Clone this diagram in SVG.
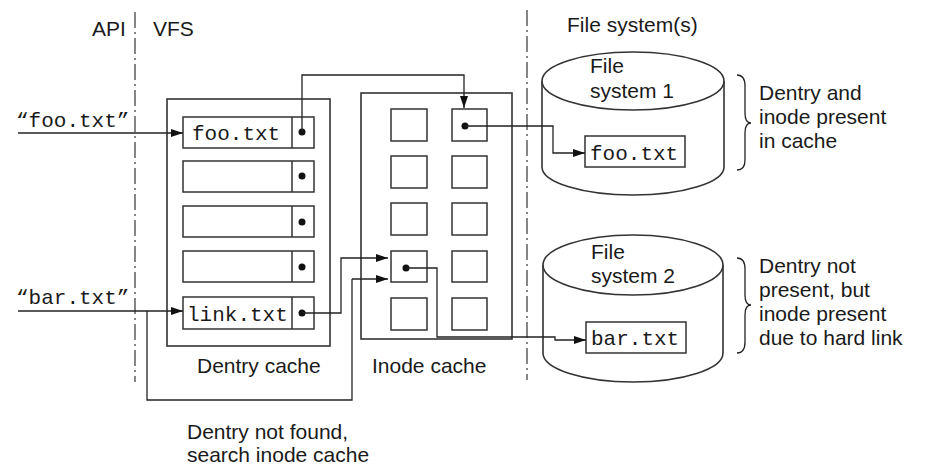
<svg xmlns="http://www.w3.org/2000/svg" width="928" height="467" viewBox="0 0 928 467">
<style>
.t{font-family:"Liberation Sans",Arial,sans-serif;font-size:21px;fill:#1a1a1a}
.m{font-family:"Liberation Mono","DejaVu Sans Mono",monospace;font-size:21px;fill:#1a1a1a}
.box{fill:#fff;stroke:#333;stroke-width:1.6}
.cell{fill:#fff;stroke:#333;stroke-width:1.5}
.ln{fill:none;stroke:#222;stroke-width:1.3}
.sep{fill:none;stroke:#444;stroke-width:1.3;stroke-dasharray:16 4 2 4}
.dot{fill:#111}
.cyl{fill:#fff;stroke:#333;stroke-width:1.6}
</style>
<defs>
<marker id="ah" markerUnits="userSpaceOnUse" markerWidth="12" markerHeight="8" refX="12" refY="4" orient="auto">
<path d="M0,0 L12,4 L0,8 z" fill="#111"/>
</marker>
</defs>
<rect width="928" height="467" fill="#fff"/>

<g id="separators">
<line class="sep" x1="135" y1="12" x2="135" y2="382"/>
<line class="sep" x1="527" y1="10" x2="527" y2="380"/>
</g>

<g id="headers">
<text class="t" x="92" y="36">API</text>
<text class="t" x="153" y="36">VFS</text>
<text class="t" x="567" y="32">File system(s)</text>
</g>

<g id="dentry-cache">
<rect class="box" x="167" y="99" width="163" height="247"/>
<g class="cell">
<rect x="183" y="117" width="131" height="31"/>
<rect x="183" y="161" width="131" height="31"/>
<rect x="183" y="206" width="131" height="31"/>
<rect x="183" y="251" width="131" height="31"/>
<rect x="183" y="297" width="131" height="32"/>
</g>
<g class="ln" style="stroke:#333;stroke-width:1.5">
<line x1="292" y1="117" x2="292" y2="148"/>
<line x1="292" y1="161" x2="292" y2="192"/>
<line x1="292" y1="206" x2="292" y2="237"/>
<line x1="292" y1="251" x2="292" y2="282"/>
<line x1="292" y1="297" x2="292" y2="329"/>
</g>
<text class="m" x="192" y="140">foo.txt</text>
<text class="m" x="187" y="321">link.txt</text>
<g class="dot">
<circle cx="302" cy="132" r="3.5"/>
<circle cx="302" cy="176" r="3.5"/>
<circle cx="302" cy="222" r="3.5"/>
<circle cx="302" cy="267" r="3.5"/>
<circle cx="302" cy="313" r="3.5"/>
</g>
<text class="t" x="197" y="373">Dentry cache</text>
</g>

<g id="inode-cache">
<rect class="box" x="361" y="93" width="151" height="246"/>
<g class="cell">
<rect x="391" y="109" width="36" height="32"/>
<rect x="452" y="109" width="35" height="32"/>
<rect x="391" y="156" width="36" height="32"/>
<rect x="452" y="156" width="35" height="32"/>
<rect x="391" y="203" width="36" height="32"/>
<rect x="452" y="203" width="35" height="32"/>
<rect x="391" y="251" width="36" height="31"/>
<rect x="452" y="251" width="35" height="31"/>
<rect x="391" y="298" width="36" height="32"/>
<rect x="452" y="298" width="35" height="32"/>
</g>
<circle class="dot" cx="465" cy="126" r="3.5"/>
<circle class="dot" cx="406" cy="268" r="3.5"/>
<text class="t" x="372" y="373">Inode cache</text>
</g>

<g id="fs1">
<path class="cyl" d="M542,81 L542,167 A91,28 0 0 0 724,167 L724,81"/>
<ellipse class="cyl" cx="633" cy="81" rx="91" ry="29"/>
<text class="t" x="590" y="73">File</text>
<text class="t" x="590" y="98">system 1</text>
<rect class="cell" x="585" y="136" width="100" height="31"/>
<text class="m" x="590" y="160">foo.txt</text>
</g>

<g id="fs2">
<path class="cyl" d="M543,265 L543,353 A90,29 0 0 0 723,353 L723,265"/>
<ellipse class="cyl" cx="633" cy="265" rx="90" ry="30"/>
<text class="t" x="591" y="259">File</text>
<text class="t" x="591" y="283">system 2</text>
<rect class="cell" x="586" y="322" width="100" height="31"/>
<text class="m" x="591" y="345">bar.txt</text>
</g>

<g id="annotations">
<path class="ln" d="M737,75 Q745,75 745,86 L745,113 Q745,123 751,123 Q745,123 745,133 L745,160 Q745,170 737,170"/>
<text class="t" x="759" y="100">Dentry and</text>
<text class="t" x="759" y="124">inode present</text>
<text class="t" x="759" y="148">in cache</text>
<path class="ln" d="M737,258 Q745,258 745,269 L745,295 Q745,305 751,305 Q745,305 745,315 L745,342 Q745,353 737,353"/>
<text class="t" x="759" y="273">Dentry not</text>
<text class="t" x="759" y="297">present, but</text>
<text class="t" x="759" y="321">inode present</text>
<text class="t" x="759" y="345">due to hard link</text>
<text class="m" x="16" y="127">“foo.txt”</text>
<text class="m" x="16" y="304">“bar.txt”</text>
<text class="t" x="187" y="439">Dentry not found,</text>
<text class="t" x="187" y="462">search inode cache</text>
</g>

<g id="connectors">
<path class="ln" marker-end="url(#ah)" d="M18,133 L183,133"/>
<path class="ln" marker-end="url(#ah)" d="M18,311 L183,311"/>
<path class="ln" d="M147,311 L147,400 L352,400 L352,279"/>
<path class="ln" marker-end="url(#ah)" d="M352,279 L388,279"/>
<path class="ln" marker-end="url(#ah)" d="M302,313 L341,313 L341,258 L388,258"/>
<path class="ln" marker-end="url(#ah)" d="M302,132 L302,75 L464,75 L464,108"/>
<path class="ln" marker-end="url(#ah)" d="M465,126 L553,126 L553,153 L585,153"/>
<path class="ln" marker-end="url(#ah)" d="M406,268 L437,268 L437,337 L555,337 L555,340 L586,340"/>
</g>
</svg>
